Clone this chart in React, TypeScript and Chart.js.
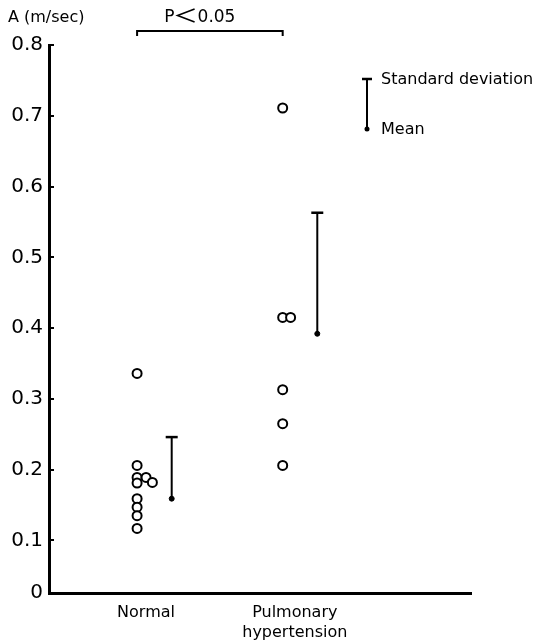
import React, { useEffect, useRef } from "react";
import { Chart, registerables } from "chart.js";

Chart.register(...registerables);

// ---- data ----
const groupLabels = [["Normal"], ["Pulmonary", "hypertension"]];
const groupLabelX = [0.92, 2.33];

const normalX = [0.835, 0.835, 0.835, 0.835, 0.92, 0.98, 0.835, 0.835, 0.835, 0.835];
const normalY = [0.336, 0.206, 0.189, 0.181, 0.189, 0.182, 0.159, 0.147, 0.135, 0.117];

const pulmX = [2.215, 2.215, 2.29, 2.215, 2.215, 2.215];
const pulmY = [0.711, 0.415, 0.415, 0.313, 0.265, 0.206];

const sdX = [1.163, 2.543];
const means = [0.159, 0.392];
const sdTops = [0.246, 0.563];

const yTickValues = [0, 0.1, 0.2, 0.3, 0.4, 0.5, 0.6, 0.7, 0.8];
const yTickLabels = ["0", "0.1", "0.2", "0.3", "0.4", "0.5", "0.6", "0.7", "0.8"];
// the original axis is compressed between 0 and 0.1; "0" sits at this value
const yZeroAt = 0.0257;

const yTitle = "A (m/sec)";
const pTextParts = ["P", "<", "0.05"];
const legendTop = "Standard deviation";
const legendBottom = "Mean";

const FONT = "'DejaVu Sans', sans-serif";

const mapY = (v: number) => (v === 0 ? yZeroAt : v);

const decorPlugin = {
  id: "decor",
  afterDraw(chart: any) {
    const { ctx } = chart;
    const x = chart.scales.x;
    const y = chart.scales.y;
    ctx.save();
    ctx.strokeStyle = "#000";
    ctx.fillStyle = "#000";
    // inward ticks on the y axis
    ctx.lineWidth = 2;
    yTickValues.forEach((v) => {
      if (v === 0) return;
      const py = Math.round(y.getPixelForValue(mapY(v)));
      ctx.beginPath();
      ctx.moveTo(x.left, py);
      ctx.lineTo(x.left + 5, py);
      ctx.stroke();
    });
    // y title
    ctx.font = `16px ${FONT}`;
    ctx.textAlign = "left";
    ctx.textBaseline = "alphabetic";
    ctx.fillText(yTitle, 8, 22);
    // significance bracket
    const bx1 = x.getPixelForValue(normalX[0]);
    const bx2 = x.getPixelForValue(pulmX[0]);
    ctx.lineWidth = 2;
    ctx.beginPath();
    ctx.moveTo(bx1, 36);
    ctx.lineTo(bx1, 31);
    ctx.lineTo(bx2, 31);
    ctx.lineTo(bx2, 36);
    ctx.stroke();
    // "P<0.05" with a wide less-than sign
    ctx.font = `17px ${FONT}`;
    ctx.textAlign = "left";
    const wP = ctx.measureText(pTextParts[0]).width;
    const wN = ctx.measureText(pTextParts[2]).width;
    const wLt = 17;
    const gap = 3;
    const total = wP + gap + wLt + gap + wN;
    let tx = (bx1 + bx2) / 2 - 10 - total / 2;
    ctx.fillText(pTextParts[0], tx, 22);
    tx += wP + gap;
    ctx.lineWidth = 1.6;
    ctx.beginPath();
    ctx.moveTo(tx + wLt, 9);
    ctx.lineTo(tx, 15.5);
    ctx.lineTo(tx + wLt, 22);
    ctx.stroke();
    tx += wLt + gap;
    ctx.fillText(pTextParts[2], tx, 22);
    // legend symbol
    const lx = 367;
    ctx.lineWidth = 2;
    ctx.beginPath();
    ctx.moveTo(lx, 79);
    ctx.lineTo(lx, 129);
    ctx.stroke();
    ctx.lineWidth = 2.5;
    ctx.beginPath();
    ctx.moveTo(lx - 5, 79);
    ctx.lineTo(lx + 5, 79);
    ctx.stroke();
    ctx.beginPath();
    ctx.arc(lx, 129, 2.5, 0, Math.PI * 2);
    ctx.fill();
    ctx.font = `16px ${FONT}`;
    ctx.textAlign = "left";
    ctx.textBaseline = "middle";
    ctx.fillText(legendTop, 381, 80);
    ctx.fillText(legendBottom, 381, 130);
    ctx.restore();
  },
};

export default function App() {
  const ref = useRef<HTMLCanvasElement | null>(null);
  useEffect(() => {
    if (!ref.current) return;
    const circle = {
      type: "scatter" as const,
      pointRadius: 4.5,
      pointHoverRadius: 4.5,
      borderWidth: 2,
      borderColor: "#000",
      backgroundColor: "#fff",
    };
    const sdSets = sdX.map((sx, i) => ({
      type: "line" as const,
      data: [
        { x: sx, y: means[i] },
        { x: sx, y: sdTops[i] },
      ],
      borderColor: "#000",
      borderWidth: 2,
      pointStyle: ["circle", "line"],
      pointRadius: [2.5, 6],
      pointBorderWidth: [1, 2.5],
      pointBackgroundColor: "#000",
      pointBorderColor: "#000",
      fill: false,
    }));
    const chart = new Chart(ref.current, {
      type: "scatter",
      data: {
        datasets: [
          { ...circle, data: normalX.map((v, i) => ({ x: v, y: normalY[i] })) },
          { ...circle, data: pulmX.map((v, i) => ({ x: v, y: pulmY[i] })) },
          ...sdSets,
        ] as any,
      },
      options: {
        responsive: false,
        animation: false,
        layout: { padding: { left: 0, right: 64, top: 45, bottom: 0 } },
        plugins: { legend: { display: false }, tooltip: { enabled: false } },
        scales: {
          x: {
            type: "linear",
            min: 0,
            max: 4,
            grid: { display: false },
            border: { display: true, color: "#000", width: 3 },
            afterBuildTicks: (s: any) => {
              s.ticks = groupLabelX.map((v) => ({ value: v }));
            },
            afterFit: (s: any) => {
              s.height = 50;
            },
            ticks: {
              color: "#000",
              padding: 1,
              maxRotation: 0,
              autoSkip: false,
              font: { family: FONT, size: 16, lineHeight: 1.3 },
              callback: (v: any) => {
                const i = groupLabelX.indexOf(Number(v));
                return i >= 0 ? groupLabels[i] : "";
              },
            },
          },
          y: {
            type: "linear",
            min: yZeroAt,
            max: 0.8,
            grid: { display: false },
            border: { display: true, color: "#000", width: 3 },
            afterBuildTicks: (s: any) => {
              s.ticks = yTickValues.map((v) => ({ value: mapY(v) }));
            },
            afterFit: (s: any) => {
              s.width = 49;
            },
            ticks: {
              color: "#000",
              padding: -2,
              autoSkip: false,
              font: { family: FONT, size: 20 },
              callback: (v: any) => {
                const i = yTickValues.findIndex((t) => Math.abs(mapY(t) - Number(v)) < 1e-6);
                return i >= 0 ? yTickLabels[i] : "";
              },
            },
          },
        },
      },
      plugins: [decorPlugin],
    });
    return () => chart.destroy();
  }, []);
  return (
    <div style={{ position: "fixed", left: 0, top: 0, width: 535, height: 643, background: "#fff" }}>
      <canvas ref={ref} width={535} height={643} />
    </div>
  );
}
